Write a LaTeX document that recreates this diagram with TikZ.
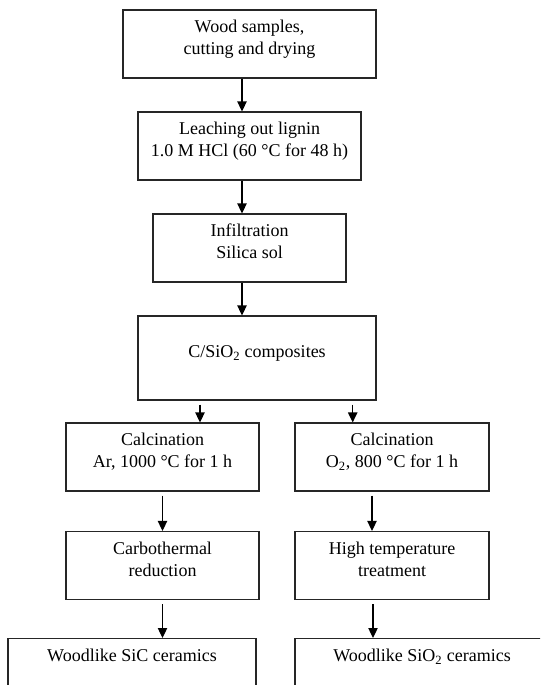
\documentclass[tikz,border=0pt]{standalone}
\usepackage{fontspec}
\setmainfont{Liberation Serif}
\usetikzlibrary{arrows.meta,positioning,calc}

\begin{document}
\begin{tikzpicture}[
  x=0.75pt, y=-0.75pt,
  pbox/.style={rectangle, draw=black!85, line width=0.8pt,
               minimum height=51pt, align=center, text depth=9.75pt,
               font=\fontsize{13.5}{16.5}\selectfont},
  endbox/.style={rectangle, draw=black!85, line width=0.8pt, anchor=north,
               text height=14pt, text depth=40pt, align=center,
               font=\fontsize{13.5}{16.5}\selectfont},
  arr/.style={-{Triangle[length=7.5pt,width=7pt]}, line width=0.9pt}
]
\clip (0,0) rectangle (540,685);

% Main column
\node[pbox, minimum width=189.75pt] (wood)  at (249.5,44)  {Wood samples,\\cutting and drying};
\node[pbox, minimum width=167.25pt] (leach) at (249.5,146) {Leaching out lignin\\1.0 M HCl (60 °C for 48 h)};
\node[pbox, minimum width=144.75pt] (infil) at (249.5,248) {Infiltration\\Silica sol};
\node[pbox, minimum width=178.5pt, minimum height=63pt] (comp) at (257,358)
  {C/SiO\textsubscript{2} composites};

% Left branch
\node[pbox, minimum width=144.75pt] (calcar) at (162.5,457)   {Calcination\\Ar, 1000 °C for 1 h};
\node[pbox, minimum width=144.75pt] (carbo)  at (162.5,565.5) {Carbothermal\\reduction};
\node[endbox, minimum width=186pt]  (sic)    at (132,638)     {Woodlike SiC ceramics};

% Right branch
\node[pbox, minimum width=145.5pt] (calcox) at (392,457)   {Calcination\\O\textsubscript{2}, 800 °C for 1 h};
\node[pbox, minimum width=145.5pt] (hitemp) at (392,565.5) {High temperature\\treatment};
\node[endbox, minimum width=190.5pt] (sio)  at (422,638)   {Woodlike SiO\textsubscript{2} ceramics};

% Arrows
\draw[arr] ($(wood.south)+(-7.5,0)$)  -- ($(leach.north)+(-7.5,0)$);
\draw[arr] ($(leach.south)+(-7.5,0)$) -- ($(infil.north)+(-7.5,0)$);
\draw[arr] ($(infil.south)+(-7.5,0)$) -- ($(comp.north)+(-15,0)$);
\draw[arr, shorten <=3pt] ($(calcar.north |- comp.south)+(37.5,0)$) -- ($(calcar.north)+(37.5,0)$);
\draw[arr, shorten <=3pt] ($(calcox.north |- comp.south)+(-39.3,0)$) -- ($(calcox.north)+(-39.3,0)$);
\draw[arr, shorten <=3pt] (calcar.south) -- (carbo.north);
\draw[arr, shorten <=3pt] ($(calcox.south)+(-20,0)$) -- ($(hitemp.north)+(-20,0)$);
\draw[arr, shorten <=3pt] (carbo.south) -- (carbo.south |- sic.north);
\draw[arr, shorten <=3pt] ($(hitemp.south)+(-19,0)$) -- ($(hitemp.south |- sio.north)+(-19,0)$);
\end{tikzpicture}
\end{document}
